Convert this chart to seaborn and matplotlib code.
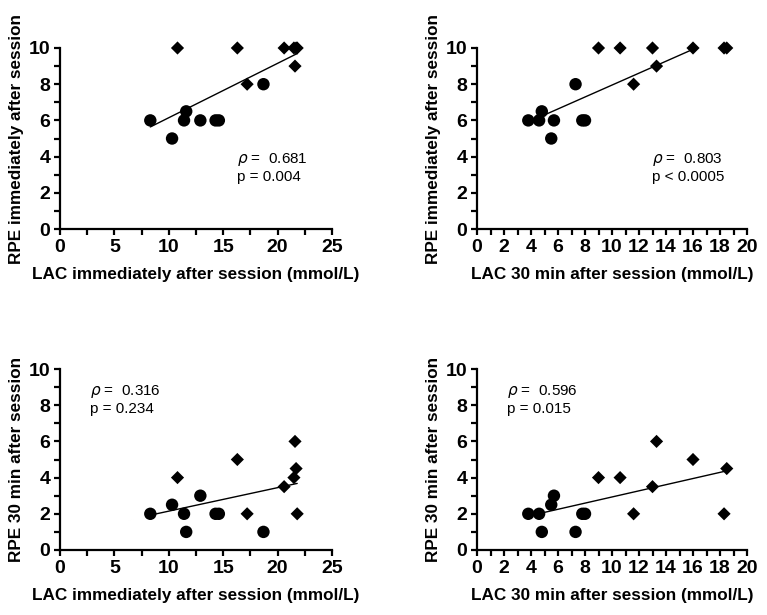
import pandas as pd
import matplotlib.pyplot as plt
import matplotlib.ticker as mticker
import seaborn as sns

# per subject values
lac_imm = [8.3, 10.3, 11.4, 11.6, 12.9, 14.3, 14.6, 18.7,
           10.8, 16.3, 17.2, 20.6, 21.5, 21.6, 21.7, 21.8]
lac_30 = [3.8, 5.5, 4.6, 4.8, 5.7, 7.8, 8.0, 7.3,
          9.0, 16.0, 11.6, 13.0, 10.6, 13.3, 18.5, 18.3]
rpe_imm = [6, 5, 6, 6.5, 6, 6, 6, 8,
           10, 10, 8, 10, 10, 9, 10, 10]
rpe_30 = [2, 2.5, 2, 1, 3, 2, 2, 1,
          4, 5, 2, 3.5, 4, 6, 4.5, 2]
group = ['circle'] * 8 + ['diamond'] * 8

rho_text = ['0.681', '0.803', '0.316', '0.596']
p_text = ['p = 0.004', 'p < 0.0005', 'p = 0.234', 'p = 0.015']

df = pd.DataFrame({'lac_imm': lac_imm, 'lac_30': lac_30,
                   'rpe_imm': rpe_imm, 'rpe_30': rpe_30, 'group': group})

sns.set_style('ticks')
plt.rcParams['font.family'] = ['Liberation Sans', 'DejaVu Sans']
plt.rcParams.update({'axes.linewidth': 1.6, 'text.color': 'black',
                     'axes.labelcolor': 'black', 'axes.edgecolor': 'black',
                     'xtick.color': 'black', 'ytick.color': 'black'})

fig = plt.figure(figsize=(7.67, 6.15), dpi=100)

W, H = 767, 615
panels = [
    # x col, y col, xlabel, ylabel, xmax, xmajor, box(px), text pos
    ('lac_imm', 'rpe_imm', 'LAC immediately after session (mmol/L)',
     'RPE immediately after session', 25, 5, (60, 48, 332, 229), (16.3, 3.85)),
    ('lac_30', 'rpe_imm', 'LAC 30 min after session (mmol/L)',
     'RPE immediately after session', 20, 2, (477, 48, 747, 229), (13.0, 3.85)),
    ('lac_imm', 'rpe_30', 'LAC immediately after session (mmol/L)',
     'RPE 30 min after session', 25, 5, (60, 369, 332, 550), (2.8, 8.75)),
    ('lac_30', 'rpe_30', 'LAC 30 min after session (mmol/L)',
     'RPE 30 min after session', 20, 2, (477, 369, 747, 550), (2.2, 8.75)),
]

for i, (xc, yc, xl, yl, xmax, xmaj, box, tpos) in enumerate(panels):
    x0, y0, x1, y1 = box
    ax = fig.add_axes([x0 / W, 1 - y1 / H, (x1 - x0) / W, (y1 - y0) / H])
    sns.regplot(data=df, x=xc, y=yc, scatter=False, ci=None, ax=ax,
                line_kws={'color': 'black', 'lw': 1.0})
    sns.scatterplot(data=df, x=xc, y=yc, style='group',
                    markers={'circle': 'o', 'diamond': 'D'},
                    size='group', sizes={'circle': 80, 'diamond': 45},
                    color='black', edgecolor='black', linewidth=0,
                    legend=False, ax=ax, clip_on=False, zorder=3)
    ax.set_xlim(0, xmax)
    ax.set_ylim(0, 10)
    ax.xaxis.set_major_locator(mticker.MultipleLocator(xmaj))
    ax.xaxis.set_minor_locator(mticker.MultipleLocator(xmaj / 2))
    ax.yaxis.set_major_locator(mticker.MultipleLocator(2))
    ax.yaxis.set_minor_locator(mticker.MultipleLocator(1))
    ax.tick_params(which='both', direction='out', width=1.6, length=4,
                   labelsize=14, pad=3)
    for lab in ax.get_xticklabels() + ax.get_yticklabels():
        lab.set_fontweight('bold')
    sns.despine(ax=ax)
    ax.set_xlabel(xl, fontsize=12.3, fontweight='bold', labelpad=8)
    ax.set_ylabel(yl, fontsize=12.3, fontweight='bold', labelpad=3)
    ax.text(tpos[0], tpos[1], r'$\rho$ =  ' + rho_text[i], fontsize=11,
            ha='left', va='center')
    ax.text(tpos[0], tpos[1] - 0.95, p_text[i], fontsize=11,
            ha='left', va='center')

fig.savefig('out.png', dpi=100)
